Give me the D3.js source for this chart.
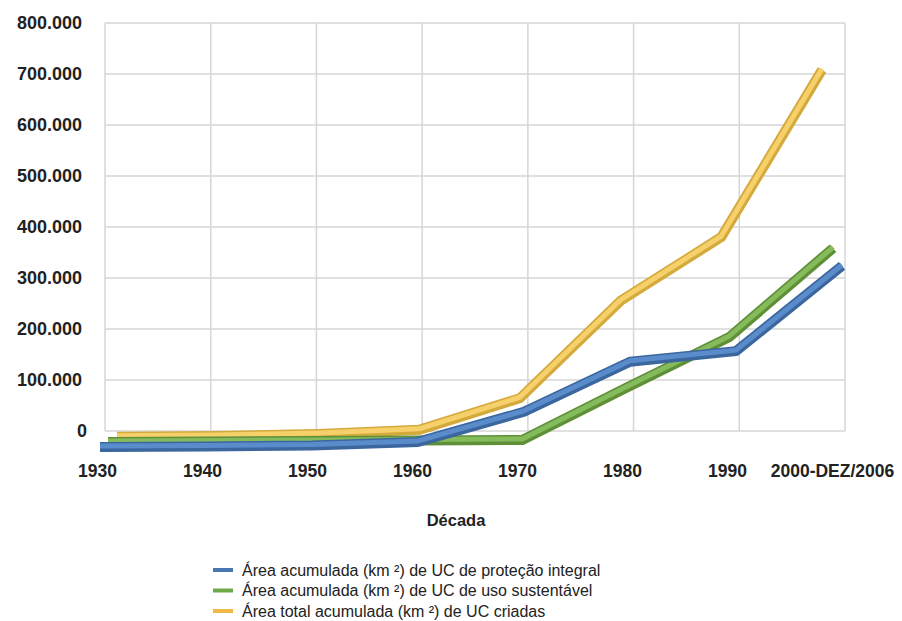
<!DOCTYPE html>
<html>
<head>
<meta charset="utf-8">
<script src="https://cdn.jsdelivr.net/npm/d3@7/dist/d3.min.js"></script>
<style>
  html, body { margin: 0; padding: 0; background: #fff; }
  svg { display: block; }
  text { font-family: "Liberation Sans", Arial, sans-serif; fill: #222; }
</style>
</head>
<body>
<svg id="chart" width="902" height="621"></svg>
<script>
// Decades on the category axis
const decades = ["1930", "1940", "1950", "1960", "1970", "1980", "1990", "2000-DEZ/2006"];

// Cumulative area (km²) per decade
const protecaoIntegral = [0, 1000, 3000, 10000, 69000, 167000, 188000, 355000];
const usoSustentavel   = [0, 1000, 2000, 3000, 4000, 106000, 206000, 380000];
const totalCriadas     = [500, 2000, 6000, 14000, 76000, 267000, 392000, 720000];

// Value-axis ticks
const yTicks = [0, 100000, 200000, 300000, 400000, 500000, 600000, 700000, 800000];

const seriesNames = [
  "Área acumulada (km ²) de UC de proteção integral",
  "Área acumulada (km ²) de UC de uso sustentável",
  "Área total acumulada (km  ²) de UC criadas"
];

const svg = d3.select("#chart");

// Back wall of the 3D plot
const wall = { left: 105, right: 845, top: 23, bottom: 431 };

const y = d3.scaleLinear().domain([0, 800000]).range([wall.bottom, wall.top]);

// Gridlines on the back wall
const gridX = d3.scalePoint().domain(d3.range(8)).range([wall.left, wall.right]);
const grid = svg.append("g").attr("stroke", "#d6d6d6").attr("stroke-width", 1.5);
grid.selectAll("line.h").data(yTicks).join("line")
  .attr("x1", wall.left).attr("x2", wall.right)
  .attr("y1", d => y(d)).attr("y2", d => y(d));
grid.selectAll("line.v").data(gridX.domain()).join("line")
  .attr("x1", d => gridX(d)).attr("x2", d => gridX(d))
  .attr("y1", wall.top).attr("y2", wall.bottom);

// Y axis labels
const yAxis = d3.axisLeft(y).tickValues(yTicks)
  .tickFormat(d => d3.format(",")(d).replace(/,/g, "."))
  .tickSize(0).tickPadding(0);
svg.append("g").attr("transform", "translate(82,0)").call(yAxis)
  .call(g => g.select(".domain").remove())
  .selectAll("text")
  .attr("dx", d => d === 0 ? 5 : 0)
  .style("font-family", "'Liberation Sans', Arial, sans-serif")
  .style("font-size", "18px").style("font-weight", "bold").attr("fill", "#222");

// Each series sits at its own depth: front ribbons spread wider and sit lower
const series = [
  { name: seriesNames[0], values: protecaoIntegral, x0: 100, x1: 842, dy: 16,
    edge: "#3b679e", body: "#5a8ccb", legend: "#4a76b0" },
  { name: seriesNames[1], values: usoSustentavel,   x0: 108, x1: 833, dy: 11,
    edge: "#5f9038", body: "#86bb5c", legend: "#6fa84a" },
  { name: seriesNames[2], values: totalCriadas,     x0: 117, x1: 822, dy: 6,
    edge: "#d4aa3c", body: "#f6d06a", legend: "#f2b84a" }
];

// Draw back to front
series.slice().reverse().forEach(s => {
  const x = d3.scalePoint().domain(decades).range([s.x0, s.x1]);
  const line = d3.line()
    .x((d, i) => x(decades[i]))
    .y(d => y(d) + s.dy);
  const g = svg.append("g").attr("fill", "none")
    .attr("stroke-linejoin", "round");
  g.append("path").datum(s.values).attr("d", line)
    .attr("stroke", s.edge).attr("stroke-width", 10).attr("stroke-linecap", "butt");
  g.append("path").datum(s.values).attr("d", line)
    .attr("stroke", s.body).attr("stroke-width", 5).attr("stroke-linecap", "butt")
    .attr("transform", "translate(0,-1)");
});

// Category axis labels
const xLab = d3.scalePoint().domain(decades).range([97, 832]);
const xAxis = d3.axisBottom(xLab).tickSize(0).tickPadding(0);
svg.append("g").attr("transform", "translate(0,465)").call(xAxis)
  .call(g => g.select(".domain").remove())
  .selectAll("text")
  .style("font-family", "'Liberation Sans', Arial, sans-serif")
  .style("font-size", "17.5px").style("font-weight", "bold").attr("fill", "#222");

// Axis title
svg.append("text").attr("x", 456).attr("y", 526).attr("text-anchor", "middle")
  .style("font-size", "16.5px").style("font-weight", "bold").text("Década");

// Legend
const legend = svg.append("g").attr("transform", "translate(213,570)");
series.forEach((s, i) => {
  const row = legend.append("g").attr("transform", `translate(0,${i * 20.5})`);
  row.append("line").attr("x1", 0).attr("x2", 20).attr("y1", 0).attr("y2", 0)
    .attr("stroke", s.legend).attr("stroke-width", 4);
  row.append("text").attr("x", 29).attr("y", 0).attr("dy", "0.35em")
    .style("font-size", "16px").text(s.name);
});
</script>
</body>
</html>
